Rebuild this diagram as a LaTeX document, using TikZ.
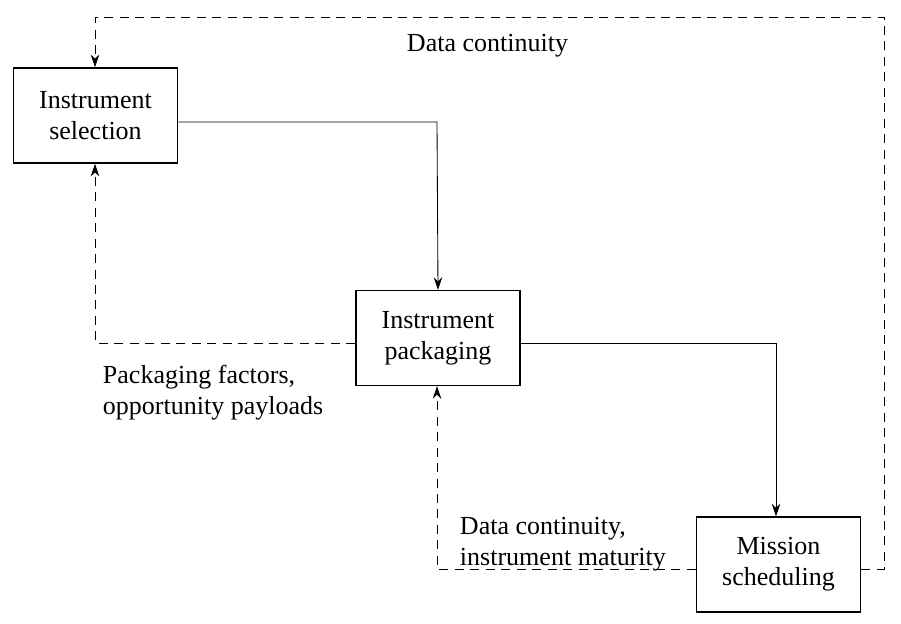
\documentclass[tikz,border=0pt]{standalone}
\usepackage{fontspec}
\setmainfont{Liberation Serif}
\usetikzlibrary{arrows.meta}
\begin{document}
\begin{tikzpicture}[x=0.025cm,y=-0.025cm,
  box/.style={draw,line width=0.9pt,minimum width=4.1cm,minimum height=2.37cm,align=center,font=\fontsize{18.5}{22}\selectfont},
  lbl/.style={align=left,anchor=west,font=\fontsize{18.5}{22}\selectfont},
  flow/.style={line width=0.6pt,-{Stealth[length=9pt,width=6pt]}},
  back/.style={flow,dash pattern=on 6.4pt off 4.6pt}]
\useasboundingbox (0,0) rectangle (901,624);

\node[box,line width=1.2pt] (sel)  at (95.5,115.5) {Instrument\\selection};
\node[box]                  (pack) at (438,338)    {Instrument\\packaging};
\node[box]                  (miss) at (778.5,564.5) {Mission\\scheduling};

\coordinate (c1) at (437,122);
\coordinate (c2) at (776,343);
\coordinate (c3) at (95,343);
\coordinate (c4) at (437,569);
\coordinate (c5) at (884,569);
\coordinate (c6) at (884,17);
\coordinate (c7) at (95,17);

% forward flow
\draw[flow] (sel.east |- c1) -- (c1) -- (pack.north);
\draw[flow] (pack.east |- c2) -- (c2) -- (miss.north -| c2);

% feedback
\draw[back] (pack.west |- c3) -- (c3) -- (sel.south -| c3);
\draw[back] (miss.west |- c4) -- (c4) -- (pack.south -| c4);
\draw[back] (miss.east |- c5) -- (c5) -- (c6) -- (c7) -- (sel.north -| c7);

\node[lbl] (l1) at (402,46)  {Data continuity};
\node[lbl] (l2) at (98,393) {Packaging factors,\\opportunity payloads};
\node[lbl] (l3) at (455,544) {Data continuity,\\instrument maturity};
\end{tikzpicture}
\end{document}
